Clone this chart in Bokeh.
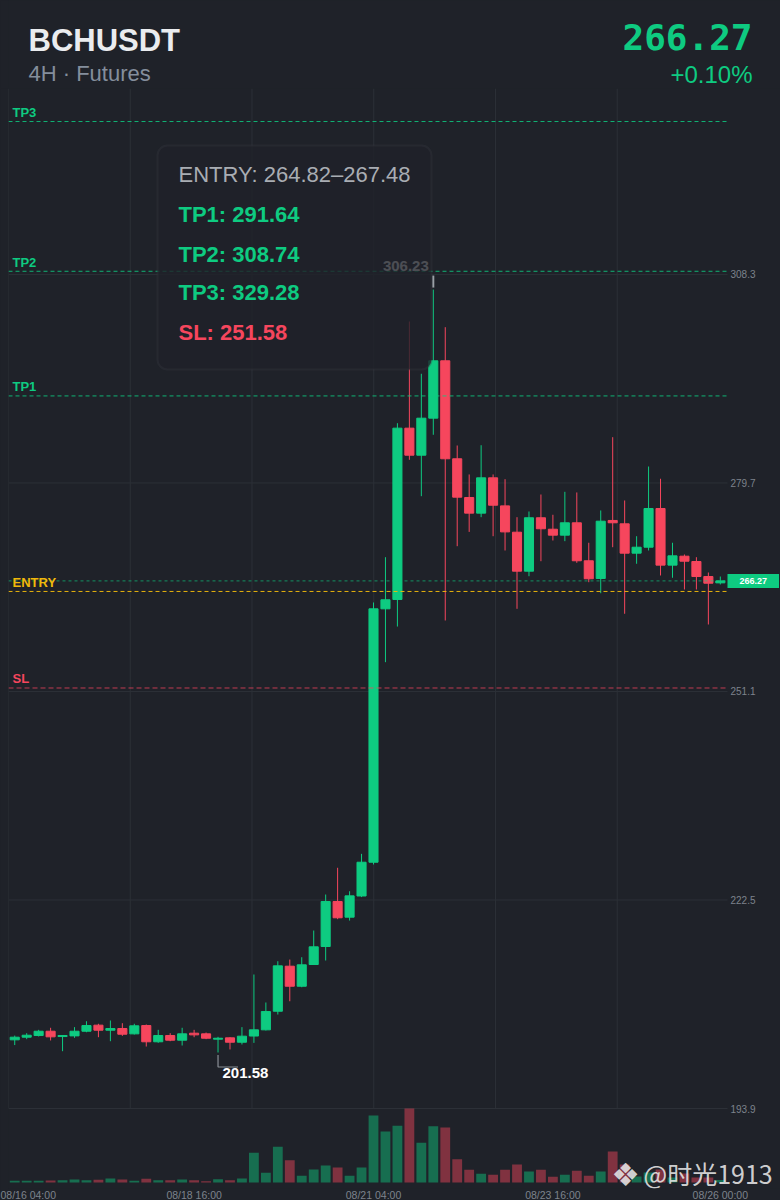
from bokeh.plotting import figure
from bokeh.models import (Range1d, FixedTicker, Label, BoxAnnotation, ColumnDataSource,
                          LinearAxis)
from bokeh.layouts import column
from bokeh.embed import file_html
from bokeh.resources import INLINE

# ---------------- data ----------------
SYMBOL = "BCHUSDT"
SUBTITLE = "4H · Futures"
CHANGE_PCT = 0.10
ENTRY_LOW = 264.82
ENTRY_HIGH = 267.48
TP1 = 291.64
TP2 = 308.74
TP3 = 329.28
SL = 251.58

OPEN = [203.32, 203.68, 203.91, 204.50, 203.77, 203.86, 204.50, 205.33, 204.64, 204.87,
        204.14, 205.28, 203.05, 203.91, 203.27, 204.23, 204.14, 203.41, 203.59, 202.99,
        203.84, 204.69, 207.24, 213.42, 210.67, 213.65, 216.12, 222.29, 220.14, 223.05,
        227.68, 262.44, 263.72, 287.22, 283.51, 288.59, 296.46, 283.02, 277.71, 275.56,
        280.41, 276.56, 272.95, 267.60, 274.93, 273.36, 272.54, 274.24, 269.03, 266.60,
        274.56, 274.10, 270.07, 270.89, 276.20, 268.43, 269.66, 268.93, 266.87, 266.00]
HIGH = [203.90, 204.23, 204.69, 204.97, 203.98, 205.06, 205.87, 205.52, 205.97, 205.60,
        205.52, 205.42, 204.69, 204.23, 204.97, 204.69, 204.32, 203.73, 203.68, 205.06,
        212.28, 208.44, 214.10, 214.33, 214.65, 218.31, 223.25, 226.92, 223.70, 228.83,
        263.31, 269.52, 287.90, 301.85, 294.68, 306.23, 301.07, 284.84, 280.87, 284.88,
        280.87, 280.22, 275.01, 275.79, 278.12, 275.34, 278.49, 278.40, 271.50, 275.93,
        285.98, 277.30, 272.40, 281.96, 280.28, 271.50, 269.89, 269.52, 267.42, 266.87]
LOW = [202.60, 203.41, 203.78, 203.23, 201.76, 203.59, 204.36, 203.68, 203.13, 203.86,
       204.05, 202.40, 202.91, 203.13, 202.54, 203.68, 203.41, 201.58, 202.00, 202.68,
       202.90, 204.60, 206.79, 208.61, 210.53, 213.60, 214.20, 219.87, 219.68, 222.90,
       227.37, 255.12, 260.01, 282.88, 277.89, 286.31, 260.84, 271.03, 272.99, 275.01,
       272.40, 270.44, 262.44, 266.91, 268.97, 271.81, 271.72, 268.75, 266.09, 264.58,
       270.89, 261.76, 268.62, 270.44, 267.01, 266.70, 265.09, 265.09, 260.29, 265.78]
CLOSE = [203.68, 203.95, 204.50, 203.73, 203.91, 204.50, 205.28, 204.64, 204.87, 204.09,
         205.24, 203.05, 203.91, 203.27, 204.14, 204.00, 203.54, 203.54, 202.99, 203.82,
         204.69, 207.20, 213.47, 210.67, 213.61, 216.08, 222.29, 220.06, 223.07, 227.68,
         262.44, 263.68, 287.22, 283.51, 288.59, 296.46, 283.02, 277.75, 275.56, 280.41,
         276.65, 272.99, 267.60, 274.93, 273.42, 272.54, 274.24, 269.03, 266.56, 274.46,
         274.24, 270.07, 270.89, 276.20, 268.43, 269.71, 268.97, 266.87, 265.95, 266.27]
VOLUME = [17, 17, 17, 20, 23, 30, 23, 27, 40, 30,
          17, 37, 23, 23, 30, 23, 13, 33, 23, 40,
          297, 97, 357, 223, 67, 130, 170, 150, 67, 150,
          670, 510, 567, 740, 397, 563, 550, 233, 127, 87,
          77, 127, 180, 110, 127, 57, 77, 117, 67, 110,
          310, 180, 60, 100, 130, 50, 90, 50, 50, 25]

X_TICKS = [0, 15, 30, 45, 59]
X_TICK_LABELS = ["08/16 04:00", "08/18 16:00", "08/21 04:00", "08/23 16:00", "08/26 00:00"]
Y_TICKS = [193.9, 222.5, 251.1, 279.7, 308.3]
Y_TICK_LABELS = ["193.9", "222.5", "251.1", "279.7", "308.3"]
GRID_X = [-0.52, 9.66, 19.84, 30.02, 40.2, 50.38]

# ---------------- style / layout ----------------
BG = "#1f2229"
GRID_C = "#2c3037"
GREEN = "#0ecb81"
RED = "#f6465d"
YELLOW = "#f0b90b"
GRAY = "#848e9c"
AXIS_C = "#7d838c"
FONT = "Liberation Sans"

W = 780
HEAD_H = 88            # header strip height
FRAME_L = 8            # left border of chart frame
FRAME_W = W - FRAME_L  # chart frame reaches right edge
PANE_W = 719           # width of candle pane (up to price axis)
PANE_H = 1020          # height of candle pane
VOL_H = 74             # height of volume pane
VOL_PAD = 6            # extra room under volume baseline (watermark)
FRAME_H = PANE_H + VOL_H + VOL_PAD
AXIS_H = 12

X_START, X_RIGHT = -0.52, 59.6
X_END = X_START + (X_RIGHT - X_START) * FRAME_W / PANE_W
Y_TOP = 333.81
Y_PANE_BOT = Y_TICKS[0]
Y_BOT = Y_TOP - (Y_TOP - Y_PANE_BOT) * FRAME_H / PANE_H
PX_X = (X_RIGHT - X_START) / PANE_W
PX_Y = (Y_TOP - Y_PANE_BOT) / PANE_H
V_PER_PX = max(VOLUME) / VOL_H


def sx(X):                      # page x -> frame screen x
    return X - FRAME_L


def sy(Y):                      # page y -> main frame screen y
    return HEAD_H + FRAME_H - Y


n = len(OPEN)
idx = list(range(n))
colors = [GREEN if c >= o else RED for o, c in zip(OPEN, CLOSE)]
src = ColumnDataSource(dict(
    x=idx, h=HIGH, l=LOW,
    top=[max(o, c) for o, c in zip(OPEN, CLOSE)],
    bot=[min(o, c) for o, c in zip(OPEN, CLOSE)],
    col=colors, vol=VOLUME,
))

# ---------------- header ----------------
hd = figure(frame_width=FRAME_W, frame_height=HEAD_H,
            x_range=Range1d(0, FRAME_W), y_range=Range1d(0, HEAD_H),
            x_axis_location=None, y_axis_location=None, toolbar_location=None,
            output_backend="svg", title=None,
            min_border_left=FRAME_L, min_border_right=0, min_border_top=0, min_border_bottom=0,
            background_fill_color=BG, border_fill_color=BG, outline_line_color=None)
hd.grid.visible = False
chg = f"{'+' if CHANGE_PCT >= 0 else ''}{CHANGE_PCT:.2f}%"
hdr = [
    (SYMBOL, 28, 40.0, "left", "#eaecef", FONT, "bold", "31px"),
    (SUBTITLE, 28, 72.5, "left", GRAY, FONT, "normal", "22px"),
    (f"{CLOSE[-1]:.2f}", 752, 36.5, "right", GREEN, "DejaVu Sans Mono", "bold", "36px"),
    (chg, 752, 73.8, "right", GREEN, FONT, "normal", "24px"),
]
for txt, x, y, al, c, f, st, fs in hdr:
    hd.add_layout(Label(x=sx(x), y=HEAD_H - y, x_units="screen", y_units="screen", text=txt,
                        text_align=al, text_baseline="alphabetic", text_color=c,
                        text_font=f, text_font_style=st, text_font_size=fs))

# ---------------- main chart ----------------
p = figure(frame_width=FRAME_W, frame_height=FRAME_H,
           x_range=Range1d(X_START, X_END), y_range=Range1d(Y_BOT, Y_TOP),
           x_axis_location="below", y_axis_location=None,
           toolbar_location=None, output_backend="svg", title=None,
           min_border_left=FRAME_L, min_border_right=0, min_border_top=0,
           min_border_bottom=AXIS_H,
           background_fill_color=BG, border_fill_color=BG, outline_line_color=None)
p.grid.visible = False
p.extra_y_ranges = {"vol": Range1d(-VOL_PAD * V_PER_PX, (FRAME_H - VOL_PAD) * V_PER_PX)}

# price axis (drawn at the right edge of the candle pane)
ya = LinearAxis(fixed_location=X_RIGHT, ticker=FixedTicker(ticks=Y_TICKS),
                major_label_overrides=dict(zip(Y_TICKS, Y_TICK_LABELS)))
ya.axis_line_color = None
ya.major_tick_line_color = None
ya.minor_tick_line_color = None
ya.major_tick_out = 0
ya.major_tick_in = 0
ya.major_label_standoff = 3
ya.major_label_text_color = AXIS_C
ya.major_label_text_font_size = "10px"
ya.major_label_text_font = FONT
p.add_layout(ya, "right")

# time axis
xa = p.xaxis[0]
xa.ticker = FixedTicker(ticks=X_TICKS)
xa.major_label_overrides = dict(zip(X_TICKS, X_TICK_LABELS))
xa.axis_line_color = None
xa.major_tick_line_color = None
xa.minor_tick_line_color = None
xa.major_tick_out = 0
xa.major_tick_in = 0
xa.major_label_standoff = 0
xa.axis_label_standoff = 0
xa.major_label_text_color = AXIS_C
xa.major_label_text_font_size = "10.5px"
xa.major_label_text_font = FONT

# grid of the candle pane
p.segment(x0=GRID_X, y0=[Y_PANE_BOT] * len(GRID_X), x1=GRID_X, y1=[Y_TOP] * len(GRID_X),
          line_color=GRID_C, line_width=1)
p.segment(x0=[X_START] * len(Y_TICKS), y0=Y_TICKS, x1=[X_RIGHT] * len(Y_TICKS), y1=Y_TICKS,
          line_color=GRID_C, line_width=1)

# volume
p.vbar(x="x", width=0.82, top="vol", bottom=0, fill_color="col", fill_alpha=0.45,
       line_color=None, source=src, y_range_name="vol")

# candles
p.segment(x0="x", y0="h", x1="x", y1="l", line_color="col", line_width=1, source=src)
p.vbar(x="x", width=0.76, top="top", bottom="bot", fill_color="col", line_color="col",
       line_width=1, source=src)

# low / high markers
li = LOW.index(min(LOW))
lo = LOW[li]
p.line([li, li, li + 20 * PX_X], [lo - 2.5 * PX_Y, lo - 14.5 * PX_Y, lo - 14.5 * PX_Y],
       line_color="#8a8f96", line_width=1.2)
p.add_layout(Label(x=li, y=lo, x_offset=4.5, y_offset=-20.8, text=f"{lo:.2f}",
                   text_align="left", text_baseline="alphabetic", text_color="#ffffff",
                   text_font=FONT, text_font_style="bold", text_font_size="15px"))
hi = HIGH.index(max(HIGH))
hv = HIGH[hi]
p.segment(x0=[hi], y0=[hv + 2 * PX_Y], x1=[hi], y1=[hv + 14 * PX_Y],
          line_color="#9aa0a6", line_width=2)
p.add_layout(Label(x=hi, y=hv, x_offset=-4.5, y_offset=23.2, text=f"{hv:.2f}",
                   text_align="right", text_baseline="alphabetic", text_color="#ffffff",
                   text_font=FONT, text_font_style="bold", text_font_size="15px"))

# level lines
p.segment(x0=[X_START], y0=[CLOSE[-1]], x1=[X_RIGHT], y1=[CLOSE[-1]], line_color=GREEN,
          line_alpha=0.65, line_dash="3 3", line_width=1)
levels = [
    (TP3, "TP3", GREEN, 0.85, "4 3"),
    (TP2, "TP2", GREEN, 0.85, "4 3"),
    (TP1, "TP1", GREEN, 0.85, "4 3"),
    (ENTRY_LOW, "ENTRY", YELLOW, 0.95, "4 3"),
    (SL, "SL", RED, 0.75, "5 3"),
]
for val, name, c, a, dash in levels:
    p.segment(x0=[X_START], y0=[val], x1=[X_RIGHT], y1=[val], line_color=c, line_alpha=a,
              line_dash=dash, line_width=1)
    p.add_layout(Label(x=4, x_units="screen", y=val, y_offset=9, text=name,
                       text_align="left", text_baseline="alphabetic", text_color=c,
                       text_font=FONT, text_font_style="bold", text_font_size="13px"))

# price tag
p.add_layout(Label(x=X_RIGHT, y=CLOSE[-1], text=f"{CLOSE[-1]:.2f}",
                   text_align="left", text_baseline="middle", text_color="#ffffff",
                   text_font=FONT, text_font_style="bold", text_font_size="9px",
                   background_fill_color=GREEN, padding=(12, 4)))

# info box
p.add_layout(BoxAnnotation(left=sx(157), right=sx(431), top=sy(145), bottom=sy(369),
                           left_units="screen", right_units="screen",
                           top_units="screen", bottom_units="screen",
                           fill_color=BG, fill_alpha=0.8, line_color="#3a3d44",
                           line_width=2, border_radius=10))
box_lines = [
    (f"ENTRY: {ENTRY_LOW:.2f}\u2013{ENTRY_HIGH:.2f}", "#a9adb3", "normal", 174.3),
    (f"TP1: {TP1:.2f}", GREEN, "bold", 214.3),
    (f"TP2: {TP2:.2f}", GREEN, "bold", 254.3),
    (f"TP3: {TP3:.2f}", GREEN, "bold", 292.3),
    (f"SL: {SL:.2f}", RED, "bold", 331.8),
]
for txt, c, st, yc in box_lines:
    p.add_layout(Label(x=sx(178), y=sy(yc), x_units="screen", y_units="screen", text=txt,
                       text_align="left", text_baseline="alphabetic", text_color=c,
                       text_font=FONT, text_font_style=st, text_font_size="22px"))

# watermark
p.add_layout(Label(x=sx(625), y=sy(1174), x_units="screen", y_units="screen", text="\u2756",
                   text_align="center", text_baseline="alphabetic", text_color="#e6e6e6",
                   text_alpha=0.9, text_font="DejaVu Sans", text_font_size="32px"))
p.add_layout(Label(x=sx(643), y=sy(1172.5), x_units="screen", y_units="screen",
                   text="@时光1913", text_align="left", text_baseline="alphabetic",
                   text_color="#e6e6e6", text_alpha=0.9, text_font="Noto Sans CJK SC",
                   text_font_size="25px"))

layout = column(hd, p, spacing=0)

TEMPLATE = """{% block postamble %}<style>html, body { margin: 0 !important; padding: 0 !important; background: #1f2229; overflow: hidden; }</style>{% endblock %}"""
open("out.html", "w").write(file_html(layout, INLINE, template=TEMPLATE))
